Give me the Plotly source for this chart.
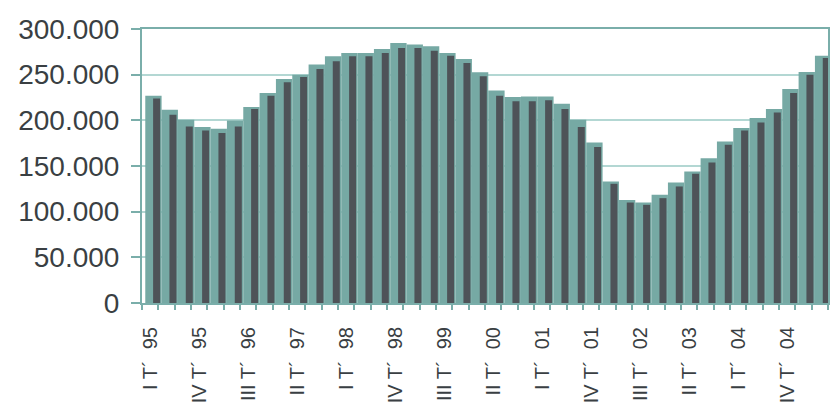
import plotly.graph_objects as go

# Quarterly series, I-1995 .. II-2005
years = [95, 96, 97, 98, 99, 0, 1, 2, 3, 4, 5]
numerals = ["I", "II", "III", "IV"]
quarters = [f"{q} T´\u00a0\u00a0{y:02d}" for y in years for q in numerals][:42]

series_a = [227000, 211600, 200700, 192600, 190800, 199900, 214500, 229900, 245200, 250000,
            261000, 270100, 273800, 273800, 278100, 284700, 282900, 281100, 273800, 267200,
            252600, 232800, 225500, 226200, 226200, 218200, 200700, 175800, 133000, 112900,
            110000, 118400, 131900, 144000, 158600, 176900, 191500, 202500, 212400, 234300,
            253000, 270800]
series_b = [224000, 206100, 193300, 189000, 186000, 193300, 212400, 227000, 241600, 247500,
            256200, 264600, 270100, 270100, 273800, 279200, 279200, 276300, 270800, 262800,
            248200, 227000, 220800, 220800, 221900, 212400, 192600, 170700, 130500, 110000,
            107500, 114800, 127600, 141400, 153900, 173200, 189000, 197700, 208700, 229900,
            250000, 268300]

TEAL = "#76a9a4"
DARK = "#4e5358"
LINE = "#7aaeaa"
GRID = "#b3d7d3"
TEXT = "#3a3f43"

idx = list(range(len(quarters)))

fig = go.Figure()
fig.add_trace(go.Bar(x=idx, y=series_a, marker=dict(color=TEAL, line_width=0),
                     offset=-0.3, width=1.0))
fig.add_trace(go.Bar(x=idx, y=series_b, marker=dict(color=DARK, line_width=0),
                     offset=0.18, width=0.43, cliponaxis=False))

fig.update_layout(
    width=833, height=410,
    margin=dict(l=142, r=3, t=29, b=107),
    paper_bgcolor="white", plot_bgcolor="white",
    barmode="overlay", showlegend=False,
    separators=",.",
    font=dict(family="Liberation Sans, Arial, sans-serif", color=TEXT),
)

fig.update_xaxes(
    range=[-0.5, len(quarters) - 0.5],
    tickmode="array", tickvals=idx[::3], ticktext=quarters[::3],
    tickangle=-90, ticks="", tickfont=dict(size=20, color=TEXT),
    showgrid=False, zeroline=False,
    showline=True, linecolor=LINE, linewidth=2, mirror=True,
    minor=dict(tickmode="linear", tick0=-0.5, dtick=1, ticks="outside",
               ticklen=5, tickwidth=1.5, tickcolor=LINE, showgrid=False),
    ticklabelstandoff=14,
)
fig.update_yaxes(
    range=[0, 300000], tickmode="linear", tick0=0, dtick=50000,
    tickformat=",d", tickfont=dict(size=28, color=TEXT),
    ticks="outside", ticklen=9, tickwidth=2, tickcolor=LINE,
    showgrid=True, gridcolor=GRID, gridwidth=2,
    zeroline=False, showline=True, linecolor=LINE, linewidth=2, mirror=True,
    ticklabelstandoff=6,
)

fig.write_html("out.html")
